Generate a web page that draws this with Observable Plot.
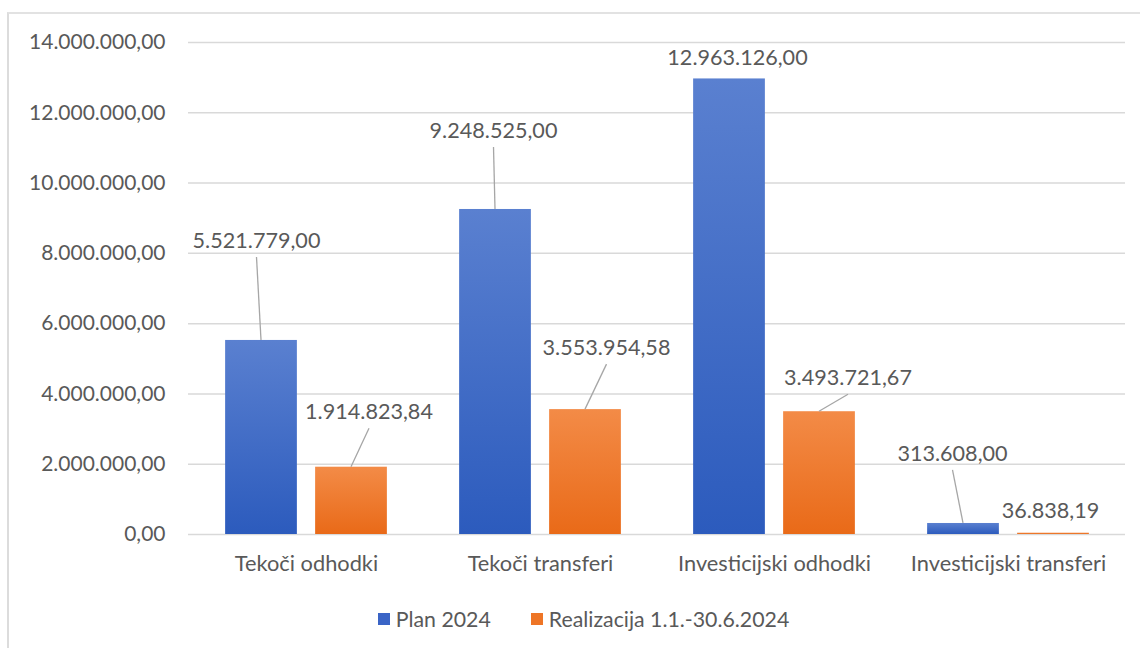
<!DOCTYPE html>
<html>
<head>
<meta charset="utf-8">
<script src="https://cdn.jsdelivr.net/npm/d3@7"></script>
<script src="https://cdn.jsdelivr.net/npm/@observablehq/plot@0.6"></script>
<style>
  html, body { margin: 0; padding: 0; background: #fff; overflow: hidden; }
  body { width: 1140px; height: 648px; position: relative; font-family: Lato, "Open Sans", sans-serif; color: #595959; }
  #frame { position: absolute; left: 7px; top: 12px; width: 1300px; height: 800px;
           border-left: 2px solid #dcdcdc; border-top: 2px solid #e2e2e2; box-sizing: border-box; }
  #chart { position: absolute; left: 0; top: 0; }
  #legend { position: absolute; left: 7px; width: 1153px; top: 606px; height: 26px;
            display: flex; justify-content: center; align-items: center; gap: 40px; font-size: 21.3px; }
  .item { display: flex; align-items: center; }
  .sw { width: 12px; height: 12px; margin-right: 6px; }
</style>
</head>
<body>
<div id="frame"></div>
<div id="chart"></div>
<div id="legend"></div>
<script>
// ---- data ----
const categories = ["Tekoči odhodki", "Tekoči transferi", "Investicijski odhodki", "Investicijski transferi"];
const seriesNames = ["Plan 2024", "Realizacija 1.1.-30.6.2024"];
const plan2024 = [5521779.00, 9248525.00, 12963126.00, 313608.00];
const realizacija = [1914823.84, 3553954.58, 3493721.67, 36838.19];
const yTicks = [0, 2000000, 4000000, 6000000, 8000000, 10000000, 12000000, 14000000];

// ---- layout / style (label offsets in px relative to top-centre of each bar) ----
const planLabelOffsets = [[-4.5, -100], [-1.5, -79], [8.5, -21], [-10.5, -70]];
const realLabelOffsets = [[18, -55.5], [21.5, -62], [29, -34], [-2.5, -22.5]];
const colors = {
  plan: {top: "#5a80d0", bottom: "#2c5bbd", legend: "#3a64c6"},
  real: {top: "#f38b47", bottom: "#e96a18", legend: "#ee7526"}
};

const W = 1140, H = 590, mL = 188, mR = 15, mT = 42, mB = 56;
const bandW = (W - mL - mR) / categories.length;
const barW = 72, barOff = 45; // bar centre offset from band centre

const locale = d3.formatLocale({decimal: ",", thousands: ".", grouping: [3], currency: ["", ""]});
const fmt = locale.format(",.2f");

const rows = [];
categories.forEach((c, i) => {
  rows.push({cat: c, s: 0, value: plan2024[i], off: planLabelOffsets[i]});
  rows.push({cat: c, s: 1, value: realizacija[i], off: realLabelOffsets[i]});
});
const planRows = rows.filter(r => r.s === 0);
const realRows = rows.filter(r => r.s === 1);

function defs() {
  const d = d3.create("svg:defs");
  for (const [id, c] of [["gPlan", colors.plan], ["gReal", colors.real]]) {
    const lg = d.append("linearGradient").attr("id", id).attr("x1", 0).attr("y1", 0).attr("x2", 0).attr("y2", 1);
    lg.append("stop").attr("offset", "0%").attr("stop-color", c.top);
    lg.append("stop").attr("offset", "100%").attr("stop-color", c.bottom);
  }
  return d.node();
}

function dataLabels(index, scales) {
  const g = d3.create("svg:g");
  const bw = scales.x.bandwidth();
  for (const r of rows) {
    const cx = scales.x(r.cat) + bw / 2 + (r.s === 0 ? -barOff : barOff);
    const ty = scales.y(r.value);
    const lx = cx + r.off[0], ly = ty + r.off[1];
    if (ty - (ly + 17) > 8) {
      g.append("line")
        .attr("x1", lx).attr("y1", ly + 17).attr("x2", cx).attr("y2", ty)
        .attr("stroke", "#a6a6a6").attr("stroke-width", 1.3);
    }
    g.append("text")
      .attr("x", lx).attr("y", ly).attr("dy", "0.35em")
      .attr("text-anchor", "middle")
      .attr("fill", "#595959")
      .style("font-size", "21.6px")
      .text(fmt(r.value));
  }
  return g.node();
}

const chart = Plot.plot({
  width: W, height: H,
  marginLeft: mL, marginRight: mR, marginTop: mT, marginBottom: mB,
  style: {fontFamily: "Lato, 'Open Sans', sans-serif", fontSize: "21px", color: "#595959", background: "transparent"},
  x: {domain: categories, padding: 0, axis: null},
  y: {domain: [0, 14000000], axis: null},
  marks: [
    defs,
    Plot.gridY(yTicks, {stroke: "#d9d9d9", strokeOpacity: 1, strokeWidth: 1.5}),
    Plot.barY(planRows, {x: "cat", y: "value", fill: "url(#gPlan)",
      insetLeft: bandW / 2 - barOff - barW / 2, insetRight: bandW / 2 + barOff - barW / 2}),
    Plot.barY(realRows, {x: "cat", y: "value", fill: "url(#gReal)",
      insetLeft: bandW / 2 + barOff - barW / 2, insetRight: bandW / 2 - barOff - barW / 2}),
    Plot.axisY({ticks: yTicks, tickFormat: fmt, tickSize: 0, tickPadding: 23, fill: "#595959", label: null, fontSize: 21}),
    Plot.axisX({tickSize: 0, tickPadding: 21, fill: "#595959", label: null, fontSize: 21.8}),
    dataLabels
  ]
});
document.getElementById("chart").appendChild(chart);

const legend = d3.select("#legend");
[[seriesNames[0], colors.plan.legend], [seriesNames[1], colors.real.legend]].forEach(([name, col]) => {
  const it = legend.append("div").attr("class", "item");
  it.append("div").attr("class", "sw").style("background", col);
  it.append("span").text(name);
});
</script>
</body>
</html>
